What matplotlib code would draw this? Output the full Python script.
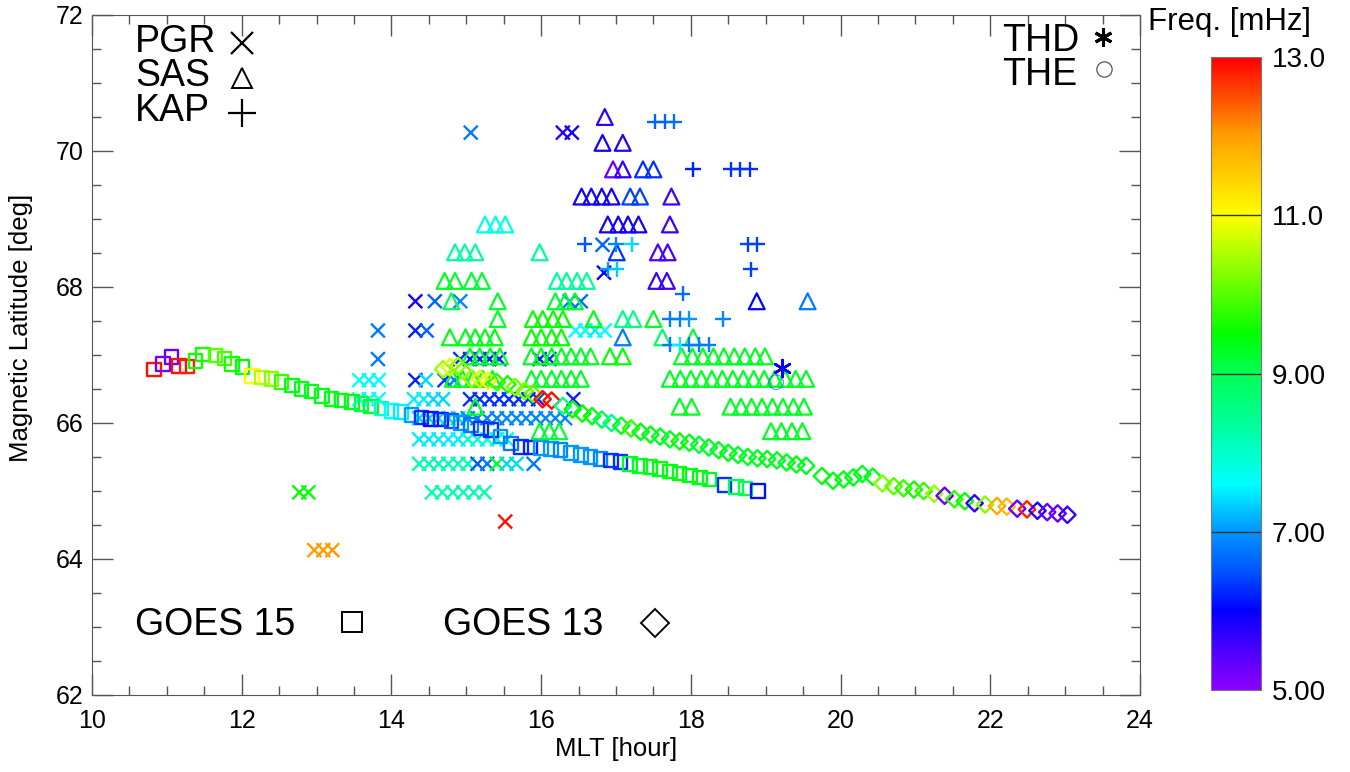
import numpy as np
import matplotlib
matplotlib.use("Agg")
import matplotlib.pyplot as plt
from matplotlib.colors import LinearSegmentedColormap, Normalize
from matplotlib.cm import ScalarMappable
from matplotlib.ticker import MultipleLocator

plt.rcParams["font.family"] = ["Liberation Sans", "DejaVu Sans"]

# ---------------------------------------------------------------- data
# PGR (crosses): one latitude per row, MLT / frequency lists per row
pgr_lat = [70.27, 68.62, 68.21, 67.79, 67.36, 66.94, 66.63, 66.35,
           66.07, 65.76, 65.40, 64.98, 64.55, 64.13]
pgr_mlt = [
    [15.06, 16.29, 16.41],
    [16.82],
    [16.84],
    [14.32, 14.58, 14.92, 16.38, 16.53],
    [13.82, 14.32, 14.47, 16.46, 16.59, 16.72, 16.85],
    [13.82, 14.92, 15.05, 15.18, 15.31, 15.44, 15.98, 16.11],
    [13.57, 13.70, 13.83, 14.32, 14.46, 14.71, 14.84],
    [13.57, 13.70, 13.83, 14.30, 14.43, 14.56, 14.69, 15.05, 15.18, 15.31,
     15.44, 15.57, 15.70, 15.83, 15.96, 16.43],
    [14.37, 14.50, 14.63, 14.76, 14.89, 15.02, 15.15, 15.28, 15.41, 15.54,
     15.67, 15.80, 15.93, 16.06, 16.19, 16.32],
    [14.37, 14.50, 14.63, 14.76, 14.89, 15.02, 15.15, 15.28, 15.41, 15.54],
    [14.37, 14.50, 14.63, 14.76, 14.89, 15.02, 15.15, 15.28, 15.41, 15.54,
     15.67, 15.90],
    [12.77, 12.89, 14.54, 14.68, 14.82, 14.96, 15.10, 15.24],
    [15.52],
    [12.97, 13.09, 13.21],
]
pgr_freq = [
    [6.8, 5.7, 5.9],
    [6.6],
    [6.0],
    [5.9, 6.6, 6.9, 6.8, 6.7],
    [6.8, 6.2, 6.6, 7.6, 7.6, 7.5, 7.6],
    [6.8, 6.3, 6.2, 6.3, 6.2, 6.3, 6.2, 6.3],
    [7.6, 7.6, 7.6, 6.2, 7.4, 6.3, 6.8],
    [7.6, 7.6, 7.6, 7.5, 7.5, 7.4, 7.4, 6.3, 6.3, 6.3, 6.3, 6.3, 6.3, 6.3,
     6.3, 6.2],
    [7.4, 7.4, 7.4, 7.4, 7.4, 6.9, 6.9, 6.9, 6.9, 6.9, 6.9, 6.9, 6.9, 6.9,
     6.9, 6.9],
    [7.5, 7.5, 7.5, 7.5, 7.5, 7.9, 7.9, 7.9, 7.9, 7.9],
    [8.2, 8.2, 8.2, 8.2, 8.2, 8.2, 6.5, 6.8, 9.2, 7.4, 7.4, 6.8],
    [9.5, 9.5, 8.2, 8.2, 8.2, 8.2, 8.2, 8.2],
    [12.9],
    [12.0, 12.0, 12.0],
]

# SAS (triangles)
sas_lat = [70.50, 70.12, 69.73, 69.33, 68.92, 68.51, 68.09, 67.79, 67.53,
           67.26, 66.98, 66.65, 66.24, 65.88]
sas_mlt = [
    [16.85],
    [16.82, 17.09],
    [16.96, 17.09, 17.36, 17.50],
    [16.54, 16.67, 16.81, 16.94, 17.19, 17.32, 17.74],
    [15.25, 15.39, 15.52, 16.89, 17.03, 17.16, 17.30, 17.72],
    [14.85, 14.98, 15.12, 15.98, 17.01, 17.56, 17.69],
    [14.71, 14.85, 15.07, 15.21, 16.21, 16.34, 16.48, 16.61, 17.54, 17.68],
    [14.80, 15.42, 16.19, 16.32, 16.45, 18.88, 19.56],
    [15.42, 15.89, 16.02, 16.16, 16.29, 16.70, 17.09, 17.23, 17.50],
    [14.78, 14.99, 15.12, 15.25, 15.38, 15.87, 16.00, 16.14, 16.27, 17.09,
     17.62, 18.03],
    [15.05, 15.18, 15.32, 15.45, 15.87, 16.00, 16.14, 16.27, 16.40, 16.53,
     16.66, 16.92, 17.09, 17.88, 18.02, 18.16, 18.30, 18.44, 18.58, 18.72,
     18.86, 18.99],
    [14.82, 14.95, 15.09, 15.22, 15.35, 15.87, 16.00, 16.14, 16.27, 16.40,
     16.53, 17.72, 17.86, 18.00, 18.14, 18.28, 18.42, 18.56, 18.70, 18.84,
     18.98, 19.12, 19.26, 19.40, 19.54],
    [15.12, 17.85, 18.01, 18.53, 18.67, 18.81, 18.95, 19.09, 19.23, 19.37,
     19.51],
    [15.98, 16.11, 16.24, 19.07, 19.21, 19.35, 19.49],
]
sas_freq = [
    [5.7],
    [5.9, 5.8],
    [5.3, 5.7, 6.3, 6.3],
    [5.9, 5.9, 5.9, 5.9, 6.4, 6.4, 5.6],
    [7.8, 7.8, 7.8, 5.9, 5.9, 5.9, 5.9, 5.6],
    [8.3, 8.3, 8.3, 8.4, 6.3, 5.5, 5.5],
    [9.3, 9.3, 9.2, 9.2, 8.4, 8.4, 8.4, 8.4, 5.6, 5.6],
    [9.0, 9.3, 9.2, 9.2, 9.2, 6.0, 6.8],
    [9.3, 9.5, 9.5, 9.5, 9.5, 9.4, 8.5, 8.5, 9.3],
    [9.4, 9.4, 9.4, 9.4, 9.4, 9.5, 9.5, 9.5, 9.5, 6.8, 8.8, 9.2],
    [9.3, 9.3, 9.3, 9.3, 9.3, 9.3, 9.3, 9.3, 9.3, 9.3, 9.3, 9.5, 9.5, 9.3,
     9.3, 9.3, 9.3, 9.3, 9.3, 9.3, 9.3, 9.3],
    [9.3, 9.3, 9.3, 9.3, 9.3, 9.3, 9.3, 9.3, 9.3, 9.3, 9.3, 9.3, 9.3, 9.3,
     9.3, 9.3, 9.3, 9.3, 9.3, 9.3, 9.3, 9.3, 9.3, 9.3, 9.3],
    [9.3, 9.3, 9.3, 9.3, 9.3, 9.3, 9.3, 9.3, 9.3, 9.3, 9.3],
    [9.2, 9.2, 9.2, 9.3, 9.3, 9.3, 9.3],
]

# KAP (plus signs)
kap_lat = [70.43, 69.73, 68.63, 68.26, 67.90, 67.53, 67.15]
kap_mlt = [
    [17.52, 17.65, 17.78],
    [18.03, 18.53, 18.66, 18.79],
    [16.58, 17.00, 17.21, 18.76, 18.89],
    [16.89, 17.01, 18.80],
    [17.89],
    [17.72, 17.85, 17.98, 18.43],
    [17.72, 17.85, 17.98, 18.11, 18.24],
]
kap_freq = [
    [6.6, 6.6, 6.7],
    [6.2, 6.3, 6.3, 6.3],
    [6.5, 6.9, 7.4, 6.4, 6.4],
    [7.0, 7.3, 6.4],
    [6.7],
    [6.8, 6.8, 7.0, 6.9],
    [6.8, 7.5, 6.8, 6.8, 6.8],
]

# GOES 15 (squares)
g15_mlt = [10.83, 10.95, 11.06, 11.16, 11.27, 11.38, 11.48, 11.65, 11.77, 11.87,
           12.01, 12.14, 12.27, 12.40, 12.53, 12.67, 12.80, 12.93, 13.07, 13.20,
           13.33, 13.47, 13.60, 13.73, 13.87, 14.00, 14.13, 14.27, 14.40, 14.53,
           14.66, 14.80, 14.93, 15.06, 15.20, 15.33, 15.46, 15.60, 15.73, 15.86,
           16.00, 16.13, 16.26, 16.40, 16.53, 16.66, 16.79, 16.93, 17.06, 17.19,
           17.32, 17.46, 17.59, 17.72, 17.85, 17.99, 18.12, 18.25, 18.45, 18.60,
           18.73, 18.90]
g15_lat = [66.79, 66.87, 66.97, 66.84, 66.83, 66.91, 67.01, 66.99, 66.95, 66.87,
           66.82, 66.69, 66.67, 66.65, 66.60, 66.55, 66.50, 66.46, 66.40, 66.35,
           66.33, 66.31, 66.28, 66.24, 66.21, 66.18, 66.16, 66.12, 66.08, 66.06,
           66.05, 66.03, 66.00, 65.97, 65.92, 65.90, 65.80, 65.70, 65.65, 65.64,
           65.63, 65.62, 65.60, 65.56, 65.53, 65.50, 65.47, 65.45, 65.43, 65.40,
           65.37, 65.35, 65.32, 65.29, 65.26, 65.23, 65.20, 65.17, 65.09, 65.06,
           65.04, 65.00]
g15_freq = [12.9, 5.2, 5.3, 12.9, 12.8, 9.6, 9.6, 10.0, 9.9, 9.6,
            9.5, 11.0, 10.5, 10.3, 9.8, 9.4, 9.4, 9.4, 9.4, 9.4,
            9.4, 9.4, 9.0, 9.3, 8.0, 7.6, 7.5, 7.0, 6.3, 6.1,
            6.2, 6.5, 7.0, 6.8, 6.3, 6.3, 7.0, 6.8, 6.3, 6.2,
            7.0, 7.0, 6.9, 7.0, 7.0, 7.0, 6.9, 6.3, 6.3, 9.3,
            9.3, 9.4, 9.4, 9.4, 9.4, 9.4, 9.4, 9.3, 6.3, 9.0,
            9.0, 6.1]

# GOES 13 (diamonds)
g13_mlt = [14.69, 14.78, 14.89, 14.95, 15.07, 15.18, 15.29, 15.41, 15.55, 15.65,
           15.78, 15.89, 16.02, 16.14, 16.29, 16.42, 16.55, 16.68, 16.81, 16.94,
           17.07, 17.20, 17.33, 17.46, 17.59, 17.72, 17.85, 17.98, 18.11, 18.24,
           18.37, 18.50, 18.63, 18.76, 18.89, 19.02, 19.15, 19.28, 19.41, 19.54,
           19.75, 19.90, 20.04, 20.17, 20.29, 20.43, 20.56, 20.71, 20.84, 20.98,
           21.11, 21.25, 21.39, 21.52, 21.66, 21.79, 21.93, 22.09, 22.22, 22.36,
           22.49, 22.63, 22.76, 22.90, 23.03]
g13_lat = [66.79, 66.82, 66.84, 66.77, 66.65, 66.65, 66.62, 66.60, 66.57, 66.53,
           66.47, 66.43, 66.35, 66.33, 66.25, 66.20, 66.14, 66.10, 66.05, 66.00,
           65.96, 65.92, 65.87, 65.83, 65.80, 65.76, 65.73, 65.71, 65.68, 65.64,
           65.60, 65.56, 65.53, 65.50, 65.48, 65.47, 65.45, 65.42, 65.39, 65.37,
           65.22, 65.15, 65.17, 65.20, 65.25, 65.21, 65.11, 65.07, 65.04, 65.02,
           65.00, 64.96, 64.93, 64.88, 64.85, 64.82, 64.80, 64.78, 64.77, 64.74,
           64.73, 64.71, 64.69, 64.67, 64.65]
g13_freq = [10.4, 10.8, 10.4, 10.2, 10.4, 10.8, 10.9, 9.8, 9.6, 10.2,
            10.2, 10.0, 12.9, 12.9, 8.5, 9.5, 9.5, 9.4, 9.0, 8.5,
            9.4, 9.8, 9.4, 9.4, 9.3, 9.3, 9.6, 9.4, 9.2, 9.3,
            9.3, 9.4, 9.3, 9.3, 9.3, 9.4, 9.3, 9.3, 9.4, 9.3,
            9.4, 9.4, 9.4, 9.4, 9.3, 9.4, 10.3, 10.0, 9.8, 9.6,
            9.8, 10.4, 5.3, 9.8, 9.5, 5.7, 10.3, 11.9, 11.7, 5.3,
            12.8, 5.8, 5.3, 5.3, 5.6]

# THEMIS D / E
thd_mlt, thd_lat, thd_freq = [19.22], [66.81], [6.0]
the_mlt, the_lat, the_freq = [19.14], [66.60], [6.4]

# ---------------------------------------------------------------- colours
cb_vals = [5.0, 5.5, 6.0, 6.5, 7.0, 7.6, 8.5, 9.0, 9.5, 10.3, 11.0, 12.0, 13.0]
cb_cols = ["#8c00ff", "#4a00ff", "#0000ff", "#0055ff", "#0096ff", "#00ffff",
           "#00ff88", "#00ff55", "#00ff00", "#88ff00", "#ffff00", "#ffa000",
           "#ff0000"]
fmin, fmax = 5.0, 13.0
cmap = LinearSegmentedColormap.from_list(
    "freq", [((v - fmin) / (fmax - fmin), c) for v, c in zip(cb_vals, cb_cols)])
norm = Normalize(fmin, fmax)


def flatten(lat, mlt, freq):
    xs, ys, fs = [], [], []
    for la, row_x, row_f in zip(lat, mlt, freq):
        xs += row_x
        ys += [la] * len(row_x)
        fs += row_f
    return np.array(xs), np.array(ys), np.array(fs)


W, H = 1350, 772
fig = plt.figure(figsize=(W / 100, H / 100), dpi=100)
ax = fig.add_axes([92 / W, 1 - 695 / H, (1140 - 92) / W, 680 / H])

px, py, pf = flatten(pgr_lat, pgr_mlt, pgr_freq)
ax.scatter(px, py, c=pf, cmap=cmap, norm=norm, marker="x", s=100, linewidths=1.7)

sx, sy, sf = flatten(sas_lat, sas_mlt, sas_freq)
ax.scatter(sx, sy, marker="^", s=130, facecolors="none",
           edgecolors=cmap(norm(sf)), linewidths=1.6)

kx, ky, kf = flatten(kap_lat, kap_mlt, kap_freq)
ax.scatter(kx, ky, c=kf, cmap=cmap, norm=norm, marker="+", s=120, linewidths=1.7)

ax.scatter(g15_mlt, g15_lat, marker="s", s=95, facecolors="none",
           edgecolors=cmap(norm(np.array(g15_freq))), linewidths=1.7)
ax.scatter(g13_mlt, g13_lat, marker="D", s=70, facecolors="none",
           edgecolors=cmap(norm(np.array(g13_freq))), linewidths=1.7)

ax.scatter(thd_mlt, thd_lat, c=thd_freq, cmap=cmap, norm=norm, marker=(6, 2, 0),
           s=150, linewidths=1.8)
ax.scatter(the_mlt, the_lat, marker="o", s=110, facecolors="none",
           edgecolors=cmap(norm(np.array(the_freq))), linewidths=0.8, alpha=0.6)

# ---------------------------------------------------------------- axes
ax.set_xlim(10, 24)
ax.set_ylim(62, 72)
ax.set_xticks(range(10, 25, 2))
ax.set_yticks(range(62, 73, 2))
ax.xaxis.set_minor_locator(MultipleLocator(0.5))
ax.yaxis.set_minor_locator(MultipleLocator(0.5))
ax.tick_params(which="both", direction="in", top=True, right=True,
               color="#555555", width=1)
ax.tick_params(which="major", length=15, labelsize=18, pad=6)
ax.tick_params(axis="x", which="major", pad=10)
ax.tick_params(which="minor", length=6.5)
for sp in ax.spines.values():
    sp.set_color("#555555")
ax.set_xlabel("MLT [hour]", fontsize=18.5)
ax.set_ylabel("Magnetic Latitude [deg]", fontsize=18.5)
ax.xaxis.set_label_coords(0.5, -0.062)
ax.yaxis.set_label_coords(-0.056, 0.54)

# in-plot legend texts and symbols
big = 27
ax.text(0.041, 0.960, "PGR", fontsize=big, transform=ax.transAxes, va="center")
ax.text(0.041, 0.910, "SAS", fontsize=big, transform=ax.transAxes, va="center")
ax.text(0.041, 0.859, "KAP", fontsize=big, transform=ax.transAxes, va="center")
ax.plot([0.143], [0.959], "x", ms=16, mew=1.6, color="k", transform=ax.transAxes)
ax.plot([0.143], [0.908], "^", ms=15, mew=1.4, mfc="none", color="k",
        transform=ax.transAxes)
ax.plot([0.143], [0.856], "+", ms=20, mew=1.6, color="k", transform=ax.transAxes)

ax.text(0.868, 0.962, "THD", fontsize=big, transform=ax.transAxes, va="center")
ax.text(0.868, 0.912, "THE", fontsize=big, transform=ax.transAxes, va="center")
ax.plot([0.965], [0.968], marker=(6, 2, 0), ms=13, mew=2.2, color="k",
        transform=ax.transAxes)
ax.plot([0.966], [0.921], "o", ms=11, mew=0.9, mfc="none", color="#555555",
        transform=ax.transAxes)

ax.text(0.041, 0.103, "GOES 15", fontsize=big, transform=ax.transAxes, va="center")
ax.text(0.335, 0.103, "GOES 13", fontsize=big, transform=ax.transAxes, va="center")
ax.plot([0.248], [0.107], "s", ms=15, mew=1.4, mfc="none", color="k",
        transform=ax.transAxes)
ax.plot([0.537], [0.106], "D", ms=14, mew=1.4, mfc="none", color="k",
        transform=ax.transAxes)

# ---------------------------------------------------------------- colour bar
cax = fig.add_axes([1211 / W, 1 - 690 / H, 50 / W, 633 / H])
cb = fig.colorbar(ScalarMappable(norm=norm, cmap=cmap), cax=cax)
cb_ticks = [5, 7, 9, 11, 13]
cb.set_ticks(cb_ticks)
cb.set_ticklabels(["5.00", "7.00", "9.00", "11.0", "13.0"])
cax.tick_params(length=0, labelsize=20, pad=8)
cb.outline.set_edgecolor("#777777")
cb.outline.set_linewidth(0.8)
for v in cb_ticks[1:-1]:
    cax.axhline(v, color="#333333", lw=1)
fig.text(1148 / W, 1 - 22 / H, "Freq. [mHz]", fontsize=22.5, va="center")

fig.savefig("out.png", dpi=100)
